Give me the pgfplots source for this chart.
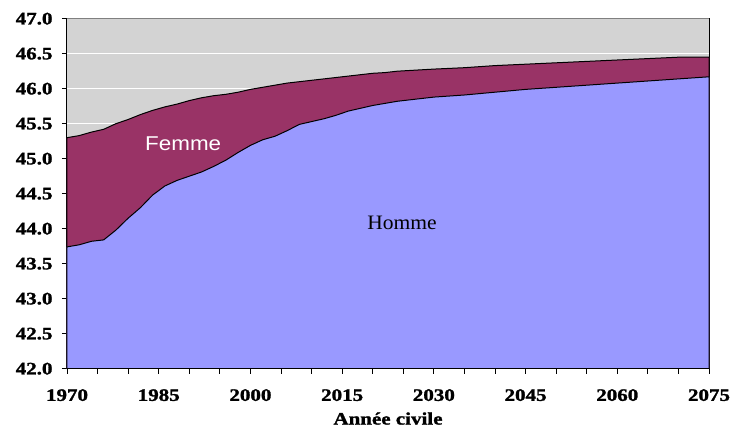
\documentclass[border=0pt]{standalone}
\usepackage{fontspec}
\usepackage{pgfplots}
\usepackage{pgfplotstable}
\pgfplotsset{compat=1.18}
\newfontfamily\tickfont[FakeStretch=1.2,FakeBold=1.5]{Liberation Serif}
\newfontfamily\hommefont[FakeStretch=1.05]{Liberation Serif}
\newfontfamily\femmefont[FakeStretch=1.12]{Liberation Sans}
\definecolor{homme}{HTML}{9999FF}
\definecolor{femme}{HTML}{993366}
\definecolor{bg}{HTML}{D3D3D3}
\pgfplotstableread{
year homme total
1970 43.74 45.30
1972 43.77 45.33
1974 43.82 45.38
1976 43.84 45.42
1978 43.98 45.50
1980 44.15 45.56
1982 44.30 45.63
1984 44.48 45.69
1986 44.61 45.74
1988 44.69 45.78
1990 44.75 45.83
1992 44.81 45.87
1994 44.89 45.90
1996 44.98 45.92
1998 45.09 45.95
2000 45.19 45.99
2002 45.27 46.02
2004 45.32 46.05
2006 45.40 46.08
2008 45.49 46.10
2010 45.53 46.12
2012 45.57 46.14
2014 45.62 46.16
2016 45.68 46.18
2018 45.72 46.20
2020 45.76 46.22
2022 45.79 46.23
2024 45.82 46.25
2026 45.84 46.26
2028 45.86 46.27
2030 45.88 46.28
2035 45.91 46.30
2040 45.95 46.33
2045 45.99 46.35
2050 46.02 46.37
2055 46.05 46.39
2060 46.08 46.41
2065 46.11 46.43
2070 46.14 46.45
2075 46.17 46.45
}\agedata
\begin{document}
\begin{tikzpicture}
\begin{axis}[
  scale only axis,
  width=642pt, height=350pt,
  xmin=1970, xmax=2075, ymin=42, ymax=47,
  xtick={1970,1985,...,2075},
  minor xtick={1975,1980,1990,1995,2005,2010,2020,2025,2035,2040,2050,2055,2065,2070},
  ytick={42,42.5,...,47},
  tick align=outside,
  xtick pos=left, ytick pos=left,
  major tick length=5pt, minor tick length=5pt,
  tick style={black, line width=0.8pt},
  minor tick style={black, line width=0.8pt},
  ymajorgrids,
  grid style={white, line width=1.2pt},
  axis background/.style={fill=bg},
  axis line style={black, line width=1pt},
  /pgf/number format/assume math mode=true,
  ticklabel style={font=\tickfont\bfseries\fontsize{17.5}{17.5}\selectfont},
  yticklabel style={xshift=-6pt, /pgf/number format/fixed, /pgf/number format/fixed zerofill, /pgf/number format/precision=1},
  xticklabel style={yshift=-12pt, /pgf/number format/1000 sep={}},
  xlabel={Année civile},
  xlabel style={yshift=-4.5pt, font=\tickfont\bfseries\fontsize{17.5}{17.5}\selectfont},
  clip=true,
]
\addplot[fill=femme, draw=black, line width=1pt] table[x=year, y=total] {\agedata} \closedcycle;
\addplot[fill=homme, draw=black, line width=1pt] table[x=year, y=homme] {\agedata} \closedcycle;
\draw[gray, line width=1.5pt] (rel axis cs:0,1) -- (rel axis cs:1,1);
\node[font=\femmefont\fontsize{20}{20}\selectfont, text=white] at (axis cs:1989,45.22) {Femme};
\node[font=\hommefont\fontsize{20.5}{20.5}\selectfont, text=black] at (axis cs:2024.8,44.09) {Homme};
\end{axis}
\pgfresetboundingbox
\path[use as bounding box] (-67pt,-58.3pt) rectangle (664pt,368.7pt);
\end{tikzpicture}
\end{document}
